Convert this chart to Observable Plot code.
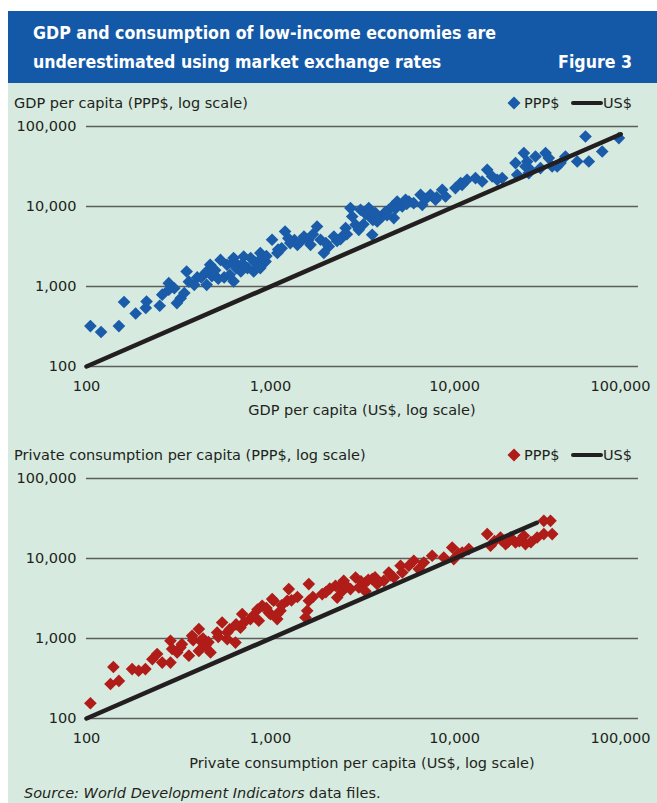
<!DOCTYPE html>
<html>
<head>
<meta charset="utf-8">
<script src="https://cdn.jsdelivr.net/npm/d3@7"></script>
<script src="https://cdn.jsdelivr.net/npm/@observablehq/plot@0.6"></script>
<style>
  html, body { margin: 0; padding: 0; background: #ffffff; }
  #wrap { position: relative; width: 657px; height: 803px; background: #ffffff; overflow: hidden;
          font-family: "DejaVu Sans", sans-serif; color: #231f20; }
  .abs { position: absolute; white-space: nowrap; }
  #header { left: 8px; top: 11px; width: 649px; height: 72px; background: #1459a8; }
  #panel { left: 8px; top: 83px; width: 649px; height: 720px; background: #d6eadf; }
  .ttl { color: #ffffff; font-family: "DejaVu Sans Condensed", "DejaVu Sans", sans-serif; font-stretch: condensed;
         font-weight: bold; font-size: 17.6px; line-height: 22px; }
  .lab { font-size: 14.5px; line-height: 18px; }
  .plotbox { position: absolute; left: 0; }
</style>
</head>
<body>
<div id="wrap">
  <div id="header" class="abs"></div>
  <div id="panel" class="abs"></div>
  <div class="abs ttl" style="left:33px; top:22px;">GDP and consumption of low-income economies are</div>
  <div class="abs ttl" style="left:33px; top:50.5px;">underestimated using market exchange rates</div>
  <div class="abs ttl" style="right:25px; top:50.5px;">Figure 3</div>

  <div class="abs lab" style="left:14px; top:94px;">GDP per capita (PPP$, log scale)</div>
  <div class="abs lab" id="leg1" style="left:506px; top:94px;"></div>
  <div class="plotbox" id="chart1" style="top:90px;"></div>
  <div class="abs lab" style="left:86px; width:552px; text-align:center; top:401px;">GDP per capita (US$, log scale)</div>

  <div class="abs lab" style="left:14px; top:446px;">Private consumption per capita (PPP$, log scale)</div>
  <div class="abs lab" id="leg2" style="left:506px; top:446px;"></div>
  <div class="plotbox" id="chart2" style="top:441.7px;"></div>
  <div class="abs lab" style="left:86px; width:552px; text-align:center; top:754px;">Private consumption per capita (US$, log scale)</div>

  <div class="abs lab" style="left:24px; top:784px;"><i>Source: World Development Indicators</i> data files.</div>
</div>
<script>
// ---- Data ----
const axisTicks = [100, 1000, 10000, 100000];
const legendLabels = ["PPP$", "US$"];

// Figure top: GDP per capita
const gdpUS = [105,120,150,160,185,210,212,250,258,280,280,325,340,310,350,360,385,450,450,470,
  500,535,580,630,630,690,715,730,780,810,880,880,1020,1090,940,660,
  1200,1280,1400,1520,1650,1790,1870,1950,2075,2210,2450,2560,2720,2780,2900,3020,3085,3420,3490,3570,
  3720,3800,4050,4400,4590,4680,4880,5200,5420,5650,6540,6680,7400,7880,8580,8940,10120,11000,11700,
  10800,13000,14140,15060,16030,17060,18160,21460,21920,23820,24840,25340,27550,29320,31250,32540,33960,
  36150,37670,40090,46450,51520,53700,63500,78200,25880,24300,
  560,420,300,620,900,1150,1350,2300,3200,4200,
  400,480,520,600,650,700,750,820,850,950,
  1100,1250,1450,1600,1700,2000,2400,2600,
  3300,3600,3900,4300,4800,5500,6000,7000,8000];
const gdpPPP = [320,270,320,640,460,540,650,575,790,1100,910,715,830,620,1540,1150,1050,1050,1540,1870,
  1600,2150,1870,2270,1160,1540,2370,1780,2270,1540,2620,1700,3840,2620,2050,1870,
  4870,3490,3320,4220,3320,5620,3840,2620,3160,4220,4220,5370,9550,7500,5900,5110,9100,9550,7500,4430,
  8270,6490,7500,9100,10000,7160,11550,10000,12130,11550,14000,10500,14000,12130,16170,13340,16980,18660,21570,
  19600,22650,20540,28750,23710,21570,22650,34870,24900,46500,36520,26150,42170,30200,46500,40270,31620,
  31620,34870,42170,36520,74990,36520,48700,71600,28750,31620,
  1300,1300,950,2000,2300,3000,3800,3700,6000,8500,
  1300,1350,1250,1400,1700,1900,1700,2000,1900,2400,
  2900,4000,3600,3800,4500,3500,3900,4500,
  8000,6800,7000,7800,9500,10800,11000,12500,13000];
const gdpUSLine = [100, 80000];

// Figure bottom: private consumption per capita
const consUS = [105,135,140,150,177,192,209,228,242,258,286,292,286,311,360,375,408,417,443,472,
  513,546,582,582,645,687,702,778,864,901,979,1021,1087,408,324,
  1040,1257,1233,1133,1615,1615,1583,1910,2256,2304,2500,2720,2900,3020,3280,3570,3800,4395,4680,5090,
  5200,5645,6010,6400,6810,7560,8745,9716,9912,11010,11960,15060,15700,17780,18940,20150,21460,23820,24300,28130,
  30590,33250,30590,33960,1000,1090,1550,2450,3280,4130,
  330,380,430,460,520,600,650,720,800,850,950,
  1150,1300,1400,1700,2000,2100,2400,2600,3100,3400,3700,4500,
  10500,16500,18000,19500,22500,26000];
const consPPP = [155,270,440,295,415,395,415,550,640,500,935,740,500,670,610,1080,1310,935,810,670,
  1190,1585,1190,980,890,1370,2020,1750,1665,2560,2110,3110,1750,700,770,
  2960,4145,2960,2220,4790,2960,2220,3590,4560,3250,5260,4145,5790,4340,5010,5530,4790,6680,5790,8110,
  6680,8110,9360,7370,8910,10810,10290,13730,9830,11885,13110,20180,14420,18300,15140,18300,15850,19220,15140,18300,
  29580,29580,20180,20180,2020,2020,1830,3900,3900,5260,
  850,950,1000,900,1050,1300,1500,1600,1900,2300,2400,
  2600,3000,3300,3300,3800,4200,4600,4500,5200,5400,5800,6200,
  11500,16500,17000,16000,16500,16000];
const consUSLine = [100, 28000];

const BLUE = "#1a5ca9";
const RED = "#b01c18";
const INK = "#231f20";

function chart(xs, ys, lineEnds, color) {
  const pts = xs.map((x, i) => ({x, y: ys[i]}));
  const line = lineEnds.map(v => ({x: v, y: v}));
  const fmt = d3.format(",");
  return Plot.plot({
    width: 657, height: 330,
    marginLeft: 86, marginRight: 19, marginTop: 36, marginBottom: 54,
    x: {type: "log", domain: [100, 100000]},
    y: {type: "log", domain: [100, 100000]},
    style: {background: "transparent", fontFamily: "DejaVu Sans, sans-serif", fontSize: "14.5px", color: INK, overflow: "visible"},
    marks: [
      Plot.ruleY(axisTicks, {stroke: "#5b5e5b", strokeWidth: 1.4}),
      Plot.axisY(axisTicks, {tickSize: 0, tickPadding: 10, tickFormat: fmt, label: null, fill: INK}),
      Plot.axisX(axisTicks.slice(0, 3), {tickSize: 0, tickPadding: 14, tickFormat: fmt, label: null, fill: INK}),
      Plot.axisX(axisTicks.slice(3), {tickSize: 0, tickPadding: 14, tickFormat: fmt, label: null, fill: INK, textAnchor: "end", dx: 12}),
      Plot.dot(pts, {x: "x", y: "y", symbol: "diamond2", r: 5.7, fill: color, stroke: "none"}),
      Plot.line(line, {x: "x", y: "y", stroke: INK, strokeWidth: 4.5, strokeLinecap: "round"})
    ]
  });
}

function legend(el, color) {
  el.innerHTML =
    `<svg width="130" height="18" style="vertical-align:top;overflow:visible">` +
    `<path d="M8,2.5 L14.5,9 L8,15.5 L1.5,9 Z" fill="${color}"/>` +
    `<text x="18" y="14" font-size="14.5" fill="${INK}" font-family="DejaVu Sans, sans-serif">${legendLabels[0]}</text>` +
    `<line x1="67" y1="9" x2="95" y2="9" stroke="${INK}" stroke-width="4" stroke-linecap="round"/>` +
    `<text x="97" y="14" font-size="14.5" fill="${INK}" font-family="DejaVu Sans, sans-serif">${legendLabels[1]}</text>` +
    `</svg>`;
}

document.getElementById("chart1").appendChild(chart(gdpUS, gdpPPP, gdpUSLine, BLUE));
document.getElementById("chart2").appendChild(chart(consUS, consPPP, consUSLine, RED));
legend(document.getElementById("leg1"), BLUE);
legend(document.getElementById("leg2"), RED);
</script>
</body>
</html>
